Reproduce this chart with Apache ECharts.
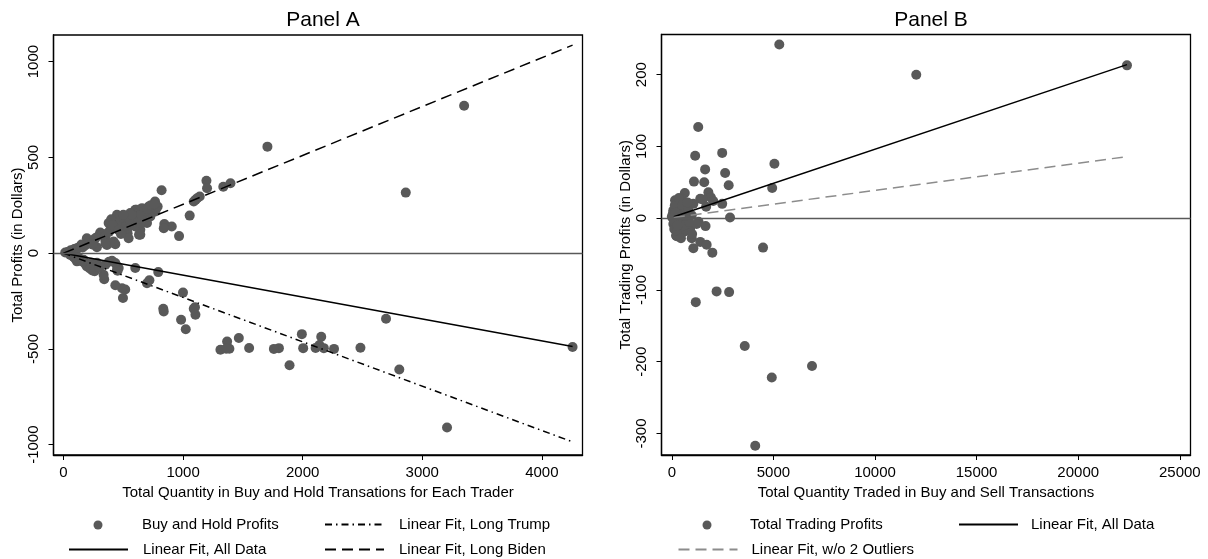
<!DOCTYPE html>
<html>
<head>
<meta charset="utf-8">
<script src="https://cdn.jsdelivr.net/npm/echarts@6/dist/echarts.min.js"></script>
<style>
  html, body { margin: 0; padding: 0; background: #fff; }
  #chart { width: 1208px; height: 559px; }
</style>
</head>
<body>
<div id="chart"></div>
<script>
// Panel A: buy and hold profits [quantity, dollars]
const buyHoldProfits = [
  [3350, 770], [1705, 556], [2862, 316],
  [1195, 378], [1200, 339], [1336, 347], [1396, 365], [820, 328],
  [1105, 279], [1139, 296], [1089, 270], [1117, 287], [1055, 196], [966, 89], [843, 152], [905, 139], [838, 130],
  [765, 270], [712, 243], [726, 245], [768, 217], [704, 200], [698, 157], [631, 96], [600, 226], [609, 226],
  [586, 212], [558, 209], [592, 191], [447, 200], [399, 177], [405, 165], [497, 183], [475, 157], [536, 104],
  [544, 78], [536, 130], [433, 47], [377, 157], [391, 122], [307, 108], [349, 70], [251, 70], [223, 52],
  [195, 78], [168, 43], [140, 35], [112, 26], [84, 17], [56, 9], [14, 3], [279, 31], [363, 43], [419, 61],
  [642, 122], [726, 191], [670, 174], [461, 148], [516, 174], [600, 139], [656, 235], [787, 243], [642, 157],
  [698, 191], [530, 174], [642, 96], [300, 95], [330, 100], [420, 130], [440, 140], [480, 170], [500, 150],
  [520, 140], [560, 160], [620, 180], [650, 200], [680, 220], [700, 230], [730, 250], [760, 255], [250, 60],
  [270, 80], [200, 50], [180, 40], [160, 30], [120, 25], [100, 20], [70, 12], [40, 6], [30, 5], [60, 15],
  [90, 22], [130, 30], [150, 45], [240, 45], [350, 90], [380, 110], [410, 145], [460, 120], [480, 100],
  [550, 180], [570, 200], [500, 200], [390, 55], [350, 50],
  [4257, -490], [3207, -910], [2697, -343], [2808, -608], [2483, -494], [2262, -500], [2155, -437], [2140, -480],
  [2177, -496], [2108, -495], [2004, -496], [1993, -423], [1890, -585], [1801, -496], [1759, -500], [1552, -495],
  [1466, -443], [1387, -499], [1368, -461], [1312, -504], [1360, -499], [1099, -283], [1103, -322], [1089, -290],
  [983, -348], [1022, -397], [999, -206], [834, -290], [838, -305], [792, -99], [600, -78], [718, -142],
  [698, -157], [497, -234], [516, -190], [489, -183], [433, -168], [340, -136], [335, -113], [449, -69],
  [452, -92], [405, -40], [447, -87], [461, -78], [433, -52], [273, -61], [241, -90], [251, -70], [209, -70],
  [195, -70], [154, -43], [168, -35], [112, -43], [84, -20], [56, -10], [130, -25], [180, -55], [220, -80],
  [260, -95], [300, -75], [350, -60], [380, -45], [280, -50], [230, -50], [100, -30]
];
const fitAllA = [[0, 0], [4257, -487]];
const fitTrump = [[0, 0], [4250, -984]];
const fitBiden = [[0, 0], [4257, 1086]];

// Panel B: total trading profits [quantity, dollars]
const tradingProfits = [
  [5290, 242], [12030, 200], [22400, 213], [1300, 127], [1150, 87], [2480, 91], [5050, 76], [1640, 68],
  [2625, 63], [1090, 51], [1595, 50], [2800, 46], [4940, 42], [640, 35], [1800, 36], [1920, 29], [1400, 27],
  [1520, 26], [2040, 24], [2480, 20], [1060, 20], [1690, 16], [2865, 1], [1315, -5], [1660, -11], [900, -13],
  [980, -28], [1060, -42], [1400, -33], [1716, -37], [1995, -48], [4490, -41], [2205, -102], [2820, -103],
  [1180, -117], [3590, -178], [6900, -206], [4920, -222], [4106, -317],
  [200, 24], [490, 27], [320, 16], [75, 11], [570, 13], [0, 2], [240, 4], [730, 6], [980, 4], [75, -8],
  [405, -12], [900, -15], [210, -24], [490, -21], [650, -18], [815, -8], [1220, -8], [160, 25], [400, 20],
  [240, 13], [490, 9], [75, 4], [320, -1], [730, -3], [570, -19], [240, -25], [150, 18], [300, 8], [420, 3],
  [550, -5], [620, 10], [700, 22], [380, -6], [120, -15], [260, -18], [450, -28], [350, 28], [520, 18],
  [100, -3], [50, 6], [600, -10], [800, 12], [850, -5], [180, 8], [280, -10], [640, 3], [1000, -22], [780, 22]
];
const fitAllB = [[100, 2], [22400, 214]];
const fitNoOutliers = [[100, 1], [22440, 86]];

const xTicksA = [0, 1000, 2000, 3000, 4000];
const yTicksA = [-1000, -500, 0, 500, 1000];
const xTicksB = [0, 5000, 10000, 15000, 20000, 25000];
const yTicksB = [-300, -200, -100, 0, 100, 200];

const FONT = 'Liberation Sans, Arial, sans-serif';
const DOT = '#595959';

function plain(v) { return String(v); }

function xAxisFor(gridIndex, min, max, ticks, name) {
  return {
    type: 'value', gridIndex: gridIndex, min: min, max: max,
    name: name, nameLocation: 'middle', nameGap: 27,
    nameTextStyle: { fontFamily: FONT, fontSize: 15, color: '#000' },
    axisLine: { show: true, onZero: false, lineStyle: { color: '#000', width: 1.3 } },
    axisTick: { show: true, length: 5, customValues: ticks, lineStyle: { color: '#000' } },
    axisLabel: { customValues: ticks, formatter: plain, margin: 10, fontFamily: FONT, fontSize: 15, color: '#000' },
    splitLine: { show: false }
  };
}
function yAxisFor(gridIndex, min, max, ticks, name, gap) {
  return {
    type: 'value', gridIndex: gridIndex, min: min, max: max,
    name: name, nameLocation: 'middle', nameGap: gap, nameRotate: 90,
    nameTextStyle: { fontFamily: FONT, fontSize: 15, color: '#000' },
    axisLine: { show: true, onZero: false, lineStyle: { color: '#000', width: 1.3 } },
    axisTick: { show: true, length: 5, customValues: ticks, lineStyle: { color: '#000' } },
    axisLabel: { customValues: ticks, formatter: plain, rotate: 90, margin: 12, fontFamily: FONT, fontSize: 15, color: '#000' },
    splitLine: { show: false }
  };
}
function zeroLine(xi, yi) {
  return {
    type: 'line', xAxisIndex: xi, yAxisIndex: yi, data: [], z: 1, silent: true,
    markLine: {
      silent: true, symbol: 'none', label: { show: false },
      lineStyle: { color: '#595959', width: 1.4, type: 'solid' },
      data: [{ yAxis: 0 }]
    }
  };
}
function fitLine(name, xi, yi, data, color, type) {
  return {
    name: name, type: 'line', xAxisIndex: xi, yAxisIndex: yi, data: data, z: 4,
    symbol: 'none', showSymbol: false,
    lineStyle: { color: color, width: 1.5, type: type },
    itemStyle: { color: color }
  };
}
// line legend: 59px icon, then text
function lineLegend(name, left, top, pad) {
  return {
    data: [{ name: name, itemStyle: { color: 'rgba(0,0,0,0)', borderWidth: 0, opacity: 0 } }],
    left: left, top: top, padding: 0,
    itemWidth: 59, itemHeight: 10, selectedMode: false,
    textStyle: { fontFamily: FONT, fontSize: 15, color: '#000', padding: [0, 0, 0, pad] }
  };
}
// dot legend: single circle, then text
function dotLegend(name, left, top, pad) {
  return {
    data: [{ name: name, icon: 'circle' }],
    left: left, top: top, padding: 0,
    itemWidth: 9, itemHeight: 9, selectedMode: false,
    textStyle: { fontFamily: FONT, fontSize: 15, color: '#000', padding: [0, 0, 0, pad] }
  };
}

const chart = echarts.init(document.getElementById('chart'), null, { renderer: 'canvas' });
chart.setOption({
  animation: false,
  backgroundColor: '#fff',
  title: [
    { text: 'Panel A', left: 318, top: 5, textAlign: 'center',
      textStyle: { fontFamily: FONT, fontSize: 21, fontWeight: 'normal', color: '#000' } },
    { text: 'Panel B', left: 926, top: 5, textAlign: 'center',
      textStyle: { fontFamily: FONT, fontSize: 21, fontWeight: 'normal', color: '#000' } }
  ],
  grid: [
    { left: 53.5, top: 35, right: 625.5, bottom: 104, show: true, borderColor: '#000', borderWidth: 1.3, backgroundColor: '#fff' },
    { left: 661.5, top: 34.5, right: 17.5, bottom: 104, show: true, borderColor: '#000', borderWidth: 1.3, backgroundColor: '#fff' }
  ],
  xAxis: [
    xAxisFor(0, -84, 4340, xTicksA, 'Total Quantity in Buy and Hold Transations for Each Trader'),
    xAxisFor(1, -507, 25526, xTicksB, 'Total Quantity Traded in Buy and Sell Transactions')
  ],
  yAxis: [
    yAxisFor(0, -1054, 1139, yTicksA, 'Total Profits (in Dollars)', 24),
    yAxisFor(1, -330, 256, yTicksB, 'Total Trading Profits (in Dollars)', 28)
  ],
  legend: [
    dotLegend('Buy and Hold Profits', 93.5, 517.5, 34.5),
    lineLegend('Linear Fit, Long Trump', 324, 517, 10),
    lineLegend('Linear Fit, All Data', 68, 542, 10),
    lineLegend('Linear Fit, Long Biden', 324, 542, 10),
    dotLegend('Total Trading Profits', 702.5, 517.5, 33.5),
    lineLegend('Linear Fit, All Data ', 958, 517, 8),
    lineLegend('Linear Fit, w/o 2 Outliers', 677.5, 542, 9)
  ],
  series: [
    zeroLine(0, 0),
    zeroLine(1, 1),
    { name: 'Buy and Hold Profits', type: 'scatter', xAxisIndex: 0, yAxisIndex: 0, z: 2,
      data: buyHoldProfits, symbolSize: 10, itemStyle: { color: DOT, opacity: 1 } },
    fitLine('Linear Fit, All Data', 0, 0, fitAllA, '#000', 'solid'),
    fitLine('Linear Fit, Long Trump', 0, 0, fitTrump, '#000', [7, 4, 1.5, 4]),
    fitLine('Linear Fit, Long Biden', 0, 0, fitBiden, '#000', [11, 6]),
    { name: 'Total Trading Profits', type: 'scatter', xAxisIndex: 1, yAxisIndex: 1, z: 2,
      data: tradingProfits, symbolSize: 10, itemStyle: { color: DOT, opacity: 1 } },
    fitLine('Linear Fit, All Data ', 1, 1, fitAllB, '#000', 'solid'),
    fitLine('Linear Fit, w/o 2 Outliers', 1, 1, fitNoOutliers, '#8c8c8c', [11, 6])
  ]
});
</script>
</body>
</html>
